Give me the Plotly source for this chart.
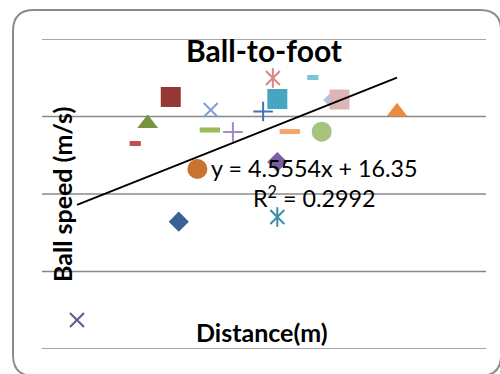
import plotly.graph_objects as go

# Distance (m) and ball speed (m/s) for each kick
distance = [1.64, 1.55, 1.29, 0.494, 2.75, 1.85, 2.59, 1.15, 1.99, 2.25,
            2.00, 2.70, 2.75, 3.15, 2.89, 3.25, 3.38, 3.45, 4.098, 2.75]
speed = [16.43, 32.52, 29.1, 3.74, 17.03, 23.23, 30.65, 26.52, 28.26, 28.0,
         30.84, 34.97, 32.26, 35.03, 28.06, 28.04, 32.13, 32.19, 30.6, 24.13]

# Trendline reported by the fit
slope = 4.5554
intercept = 16.35
r_squared = 0.2992

# Value axis gridlines
y_ticks = [0, 10, 20, 30, 40]

# Per-point marker kind and colour (Excel "vary colours by point" look)
kinds = ["diamond", "square", "triangle", "x", "star", "circle", "plus", "dash_s",
         "dash_l", "plus", "x", "star", "square", "dash_s", "dash_l", "circle",
         "diamond", "square", "triangle", "diamond"]
colors = ["#3A6196", "#953735", "#77933C", "#6A5590", "#3A8DA5", "#C8742F",
          "#4472B8", "#C0504D", "#9BBB59", "#A08BC2", "#7E9ED4", "#D68886",
          "#46A5C0", "#7CC3D8", "#F9A46E", "#A7C47C", "#B5C4E2", "#DDB5B5",
          "#EC8A3E", "#7B5EA0"]

STYLE = {
    "diamond": [("diamond", 15.5, 0)],
    "square": [("square", 20, 0)],
    "triangle": [("triangle-up", 18, 0)],
    "circle": [("circle", 20, 0)],
    "x": [("x-thin-open", 14, 2)],
    "star": [("x-thin-open", 14, 2), ("line-ns-open", 14, 2)],
    "plus": [("cross-thin-open", 14, 2)],
    "dash_l": [("line-ew-open", 14.5, 5)],
    "dash_s": [("line-ew-open", 8, 5)],
}

fig = go.Figure()

# Horizontal gridlines (drawn as shapes so the edge lines show too)
for yv in y_ticks:
    fig.add_shape(type="line", xref="x domain", yref="y", x0=0, x1=1, y0=yv, y1=yv,
                  line=dict(color="#888888", width=1.6), layer="below")

for xv, yv, kind, col in zip(distance, speed, kinds, colors):
    for sym, size, lw in STYLE[kind]:
        fig.add_trace(go.Scatter(
            x=[xv], y=[yv], mode="markers", showlegend=False, hoverinfo="skip",
            marker=dict(symbol=sym, size=size, color=col,
                        line=dict(color=col, width=lw)),
        ))

# Linear trendline across the data range
x0, x1 = min(distance), max(distance)
fig.add_trace(go.Scatter(
    x=[x0, x1], y=[slope * x0 + intercept, slope * x1 + intercept],
    mode="lines", line=dict(color="black", width=2),
    showlegend=False, hoverinfo="skip",
))

# Rounded chart-area border (paper coordinates); right and bottom run off the page
L, R, T, B = -0.0653, 1.034, 1.0935, -0.0871
rx, ry = 0.0473, 0.0677
border = (f"M{L + rx},{T} L{R - rx},{T} Q{R},{T} {R},{T - ry} "
          f"L{R},{B + ry} Q{R},{B} {R - rx},{B} "
          f"L{L + rx},{B} Q{L},{B} {L},{B + ry} "
          f"L{L},{T - ry} Q{L},{T} {L + rx},{T} Z")
fig.add_shape(type="path", path=border, xref="paper", yref="paper",
              line=dict(color="#8C8C8C", width=2), layer="below")

font_name = "Lato"
common = dict(xref="paper", yref="paper", showarrow=False,
              xanchor="center", yanchor="middle")
fig.add_annotation(text="<b>Ball-to-foot</b>", x=0.5, y=0.966,
                   font=dict(family=font_name, size=30, color="black"), **common)
fig.add_annotation(text="<b>Ball speed (m/s)</b>", x=0.045, y=0.5, textangle=-90,
                   font=dict(family=font_name, size=25, color="black"), **common)
fig.add_annotation(text="<b>Distance(m)</b>", x=0.495, y=0.055,
                   font=dict(family=font_name, size=25, color="black"), **common)
fig.add_annotation(text=f"y = {slope}x + {intercept}<br>R<sup>2</sup> = {r_squared}",
                   x=0.6137, y=0.535, align="center",
                   font=dict(family=font_name, size=23.3, color="black"), **common)

fig.update_xaxes(range=[0.1, 5.1], showgrid=False, zeroline=False,
                 showline=False, showticklabels=False, ticks="")
fig.update_yaxes(range=[0, 40], showgrid=False, zeroline=False,
                 showline=False, showticklabels=False, ticks="")

fig.update_layout(
    width=500, height=374,
    margin=dict(l=42, r=14, t=39, b=25),
    paper_bgcolor="white", plot_bgcolor="white",
    showlegend=False,
)

fig.write_html("out.html")
